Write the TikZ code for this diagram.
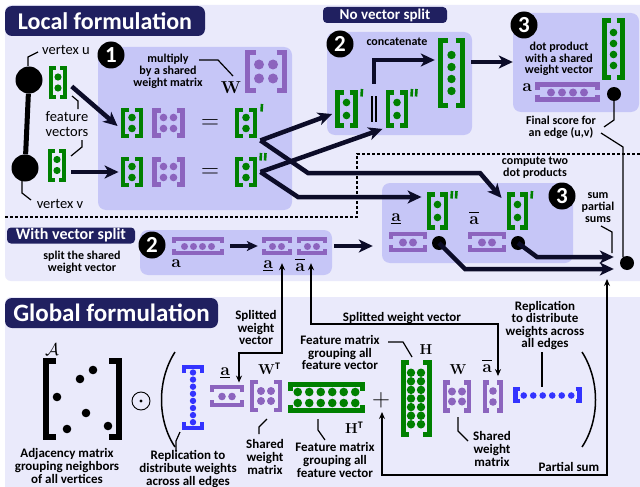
\documentclass[tikz,border=0pt]{standalone}
\usepackage[no-math]{fontspec}
\setmainfont{Carlito}
\usetikzlibrary{arrows.meta,calc}
\definecolor{bgc}{RGB}{234,234,251}
\definecolor{boxc}{RGB}{198,198,247}
\definecolor{navy}{RGB}{32,32,96}
\definecolor{gc}{RGB}{0,128,0}
\definecolor{pc}{RGB}{140,100,190}
\definecolor{bc}{RGB}{51,51,255}
\definecolor{ac}{RGB}{12,12,40}
\newcommand\ova{\overline{\mathbf{a}\vphantom{t}}}
\newcommand\una{\underline{\mathbf{a}}}
% vertical brackets: name,x,y,hw,hh,tick,color,lw
\newcommand\vbk[8]{%
  \node[inner sep=0pt,minimum width=2*#4pt+#8pt,minimum height=2*#5pt+#8pt] (#1) at (#2,#3) {};
  \draw[#7,line width=#8pt] (#2-#4+#6,#3-#5) -- (#2-#4,#3-#5) -- (#2-#4,#3+#5) -- (#2-#4+#6,#3+#5)
    (#2+#4-#6,#3-#5) -- (#2+#4,#3-#5) -- (#2+#4,#3+#5) -- (#2+#4-#6,#3+#5);}
% horizontal brackets
\newcommand\hbk[8]{%
  \node[inner sep=0pt,minimum width=2*#4pt+#8pt,minimum height=2*#5pt+#8pt] (#1) at (#2,#3) {};
  \draw[#7,line width=#8pt] (#2-#4,#3-#5+#6) -- (#2-#4,#3-#5) -- (#2+#4,#3-#5) -- (#2+#4,#3-#5+#6)
    (#2-#4,#3+#5-#6) -- (#2-#4,#3+#5) -- (#2+#4,#3+#5) -- (#2+#4,#3+#5-#6);}
\newcommand\prm[2]{\draw[gc,line width=2.6pt] (#1,#2) -- (#1-0.5,#2+7.5);}
\newcommand\dprm[2]{\draw[gc,line width=2.6pt] (#1,#2) -- (#1-0.5,#2+7.5) (#1+4.5,#2) -- (#1+4,#2+7.5);}
\begin{document}
\begin{tikzpicture}[x=1pt,y=-1pt,
  tb/.style={font=\fontsize{12}{11.8}\selectfont\bfseries,align=center,inner sep=0pt},
  tg/.style={font=\fontsize{13}{12.6}\selectfont\bfseries,align=center,inner sep=0pt},
  tr/.style={font=\fontsize{14.5}{15}\selectfont,align=center,inner sep=0pt},
  ml/.style={font=\fontsize{18}{18}\selectfont,inner sep=0pt},
  ttl/.style={fill=navy,text=white,rounded corners=7pt,inner sep=0pt,font=\bfseries},
  stepbox/.style={fill=boxc,rounded corners=8pt,inner sep=0pt},
  badge/.style={circle,fill=black,text=white,minimum size=27pt,inner sep=0pt,font=\fontsize{23}{23}\selectfont\bfseries},
  bdot/.style={circle,fill=black,minimum size=14pt,inner sep=0pt},
  vtx/.style={circle,fill=black,minimum size=27pt,inner sep=0pt},
  bigarrow/.style={draw=ac,line width=4.5pt,-{Stealth[length=14pt,width=13pt,inset=4pt]}},
  midarrow/.style={draw=ac,line width=3.5pt,-{Stealth[length=11pt,width=10pt,inset=3pt]}},
  thinarr/.style={draw=black,line width=1.3pt,{Stealth[length=7pt,width=6pt]}-{Stealth[length=7pt,width=6pt]}},
  leader/.style={draw=black,line width=1.2pt},
  sep/.style={draw=black,line width=1.3pt,dash pattern=on 3pt off 2pt},
]
\useasboundingbox (0,0) rectangle (640,487);
% panels
\fill[white] (0,0) rectangle (640,487);
\fill[bgc,rounded corners=6pt] (5,5) rectangle (660,281);
\fill[bgc,rounded corners=6pt] (5,297) rectangle (660,500);
% step boxes
\node[stepbox,minimum width=194pt,minimum height=163pt] (b1) at (195,128.5) {};
\node[stepbox,minimum width=145pt,minimum height=103pt] (b2) at (399.5,83.5) {};
\node[stepbox,minimum width=126pt,minimum height=99pt] (b3) at (576,62.5) {};
\node[stepbox,minimum width=192pt,minimum height=45pt] (sb2) at (236,252.5) {};
\node[stepbox,minimum width=191pt,minimum height=80pt] (sb3) at (477.5,223) {};
% titles
\node[ttl,minimum width=200pt,minimum height=30pt,font=\fontsize{24}{24}\selectfont\bfseries] (tLocal) at (105,21) {Local formulation};
\node[ttl,minimum width=124pt,minimum height=16pt,rounded corners=4pt,font=\fontsize{15}{15}\selectfont\bfseries] (tNo) at (385,15) {No vector split};
\node[ttl,minimum width=128pt,minimum height=16pt,rounded corners=4pt,font=\fontsize{16}{16}\selectfont\bfseries] (tWith) at (71,235.5) {With vector split};
\node[ttl,minimum width=213pt,minimum height=30pt,font=\fontsize{25}{25}\selectfont\bfseries] (tGlobal) at (111.5,313) {Global formulation};
% separator
\draw[sep] (5,217) -- (357,217) -- (357,154) -- (640,154);
% vertices
\node[vtx] (vU) at (29,80) {};
\node[vtx] (vV) at (25,168) {};
\draw[line width=5pt] (vU) -- (vV);
% badges
\node[badge] (n1) at (111,55) {1};
\node[badge] (n2a) at (340,44) {2};
\node[badge] (n3a) at (524,25) {3};
\node[badge] (n2b) at (152,245) {2};
\node[badge] (n3b) at (562,196) {3};
% ---------- icons, local ----------
\vbk{gu}{58}{82.5}{7}{14.5}{5}{gc}{4}
\fill[gc] (58,77) circle[radius=3.6pt] (58,88) circle[radius=3.6pt];
\vbk{gv}{57}{165}{7}{14.5}{5}{gc}{4}
\fill[gc] (57,159.5) circle[radius=3.6pt] (57,170.5) circle[radius=3.6pt];
\vbk{Wb}{266}{71.5}{18.5}{19}{8}{pc}{5}
\fill[pc] (259,64.5) circle[radius=5pt] (273,64.5) circle[radius=5pt] (259,78.5) circle[radius=5pt] (273,78.5) circle[radius=5pt];
\foreach \yy/\nm in {123/1,172/2}{
  \vbk{r\nm a}{132}{\yy}{9}{13}{6}{gc}{4.5}
  \fill[gc] (132,\yy-5.5) circle[radius=3.8pt] (132,\yy+5.5) circle[radius=3.8pt];
  \vbk{r\nm W}{168.5}{\yy}{14}{12.5}{6}{pc}{4.5}
  \fill[pc] (163.5,\yy-5.5) circle[radius=3.8pt] (173.5,\yy-5.5) circle[radius=3.8pt] (163.5,\yy+5.5) circle[radius=3.8pt] (173.5,\yy+5.5) circle[radius=3.8pt];
  \node[inner sep=0pt,font=\fontsize{26}{26}\selectfont] (eq\nm) at (210,\yy+1.5) {$=$};
  \vbk{r\nm p}{246}{\yy}{9}{13}{6}{gc}{4.5}
  \fill[gc] (246,\yy-5.5) circle[radius=3.8pt] (246,\yy+5.5) circle[radius=3.8pt];
}
\prm{262}{104}
\dprm{261}{153}
\node[ml,font=\fontsize{16}{16}\selectfont] (Wlab) at (231,88) {$\mathbf{W}$};
% step 2 no split
\vbk{s2p}{346.5}{109}{9}{16.5}{6}{gc}{4.5}
\fill[gc] (346.5,102.5) circle[radius=3.8pt] (346.5,115.5) circle[radius=3.8pt];
\prm{362}{89}
\node[inner sep=0pt,minimum width=6pt,minimum height=28pt] (bars) at (374,109) {};
\draw[line width=1.2pt] (372,96) -- (372,122) (376,96) -- (376,122);
\vbk{s2pp}{397}{109}{9}{16.5}{6}{gc}{4.5}
\fill[gc] (397,102.5) circle[radius=3.8pt] (397,115.5) circle[radius=3.8pt];
\dprm{412}{89}
\vbk{s2cat}{451.5}{73}{11}{32}{7}{gc}{5}
\foreach \k in {0,...,3}{\fill[gc] (451.5,55+\k*12) circle[radius=4.2pt];}
% step 3 no split
\vbk{t3v}{613.5}{49}{9}{28.5}{6}{gc}{4.5}
\foreach \k in {0,...,3}{\fill[gc] (613.5,32.5+\k*11) circle[radius=3.8pt];}
\hbk{t3a}{567.5}{92}{30}{7.5}{5}{pc}{4.5}
\foreach \k in {0,...,3}{\fill[pc] (551+\k*11,92.5) circle[radius=4pt];}
\node[bdot] (t3d) at (614,94) {};
\node[ml] (alab1) at (527,88) {$\mathbf{a}$};
% split step 2
\hbk{sa4}{198}{246}{24}{7}{4}{pc}{4}
\foreach \k in {0,...,3}{\fill[pc] (184.5+\k*9,246.5) circle[radius=3.5pt];}
\hbk{sa2u}{277}{246}{13}{7}{4}{pc}{4}
\fill[pc] (272.5,246.5) circle[radius=3.5pt] (281.5,246.5) circle[radius=3.5pt];
\hbk{sa2o}{312}{246}{13}{7}{4}{pc}{4}
\fill[pc] (307.5,246.5) circle[radius=3.5pt] (316.5,246.5) circle[radius=3.5pt];
\node[ml] (alab2) at (176,264) {$\mathbf{a}$};
\node[ml] (alab3) at (268,266) {$\una$};
\node[ml] (alab4) at (300,265) {$\ova$};
% split step 3
\vbk{vpp}{437.5}{211}{8.5}{16.5}{6}{gc}{4.5}
\fill[gc] (437.5,204.5) circle[radius=3.8pt] (437.5,217.5) circle[radius=3.8pt];
\dprm{452}{191}
\vbk{vp}{517.5}{211}{8.5}{16.5}{6}{gc}{4.5}
\fill[gc] (517.5,204.5) circle[radius=3.8pt] (517.5,217.5) circle[radius=3.8pt];
\prm{532}{191}
\hbk{pau}{408}{242}{17}{8}{5}{pc}{4.5}
\fill[pc] (403,242.5) circle[radius=4pt] (413,242.5) circle[radius=4pt];
\hbk{pao}{487}{242}{17}{8}{5}{pc}{4.5}
\fill[pc] (482,242.5) circle[radius=4pt] (492,242.5) circle[radius=4pt];
\node[ml] (alab5) at (396,219) {$\una$};
\node[ml] (alab6) at (474,218) {$\ova$};
\node[bdot] (pd1) at (439,243) {};
\node[bdot] (pd2) at (518,243) {};
\node[bdot] (sumd) at (627,263) {};
% ---------- connectors, local ----------
\draw[bigarrow,shorten <=6pt] (gu.east) -- ($(r1a.west)+(-3,3)$);
\draw[bigarrow,shorten <=5pt,shorten >=2pt] (gv.east |- r2a.west) -- (r2a.west);
\coordinate (c1) at ($(r1p.south east)+(3,2)$);
\coordinate (c2) at ($(r2p.east)+(3,0)$);
\draw[bigarrow] (c1) -- (308,173) -- (480,173) -- ($(vp.west)+(-5,-13)$);
\draw[bigarrow] (c2) -- (298,197) -- ($(vpp.west)+(-5,-14)$);
\draw[bigarrow] (c1) -- ($(s2p.west)+(-3,5)$);
\draw[bigarrow] (c2) -- ($(s2pp.south west)+(-3,1)$);
\draw[bigarrow,shorten <=11pt] (bars.north) |- ($(s2cat.west)+(-3,-13)$);
\draw[bigarrow] ($(s2cat.east)+(6,-11)$) -- ($(b3.west)+(0,-0.5)$);
\draw[midarrow,shorten <=6pt,shorten >=4pt] (sa4.east) -- (sa2u.west);
\draw[bigarrow] ($(sa2o.east)+(7,0)$) -- ($(sb3.west |- sa2o.east)+(-9,0)$);
\draw[bigarrow] (pd1.center) -- (465,269) -- ($(sumd.west)+(-6,6)$);
\draw[bigarrow] (pd2.center) -- (537,257) -- ($(sumd.west)+(-6,-6)$);
% ---------- texts, local ----------
\node[tr] (tvu) at (66,50) {vertex u};
\node[tr] (tvv) at (60,204) {vertex v};
\node[tr] (tfv) at (67,124) {feature\\vectors};
\node[tb] (tmul) at (168,71) {multiply\\by a shared\\weight matrix};
\node[tb] (tcat) at (397,42) {concatenate};
\node[tb] (tdp) at (559,59) {dot product\\with a shared\\weight vector};
\node[tb] (tfs) at (561,127.5) {Final score for\\an edge (u,v)};
\node[tb] (tctd) at (535,168) {compute two\\dot products};
\node[tb] (tsps) at (598,207.5) {sum\\partial\\sums};
\node[tb] (tstw) at (82,262) {split the shared\\weight vector};
% leaders local
\draw[leader] (38,52) -- (28,57) -- (28,66);
\draw[leader] (31,200) -- (22,193) -- (22,181);
\draw[leader] (72,96) -- (78,101) -- (78,109);
\draw[leader] (82,140) -- (82,147) -- (71,156);
\draw[leader] (199,60) -- (218,60) -- (233,76);
\draw[leader] (t3d.south) -- (614,120) -- (604,127);
\draw[leader] (601,133) -- (623,147) -- (623,257);
\draw[leader] (601,226) -- (612,232) -- (612,253);
% ---------- global ----------
\vbk{adj}{82.5}{399}{36.5}{38}{10}{black}{5.5}
\fill (93,370) circle[radius=4.3pt] (80,379) circle[radius=4.3pt] (57,397) circle[radius=4.3pt]
      (86,413) circle[radius=4.3pt] (67,429) circle[radius=4.3pt] (108,426) circle[radius=4.3pt];
\node[ml,font=\fontsize{17}{17}\selectfont] (Acal) at (52,350) {$\mathcal{A}$};
\node[circle,draw,line width=0.9pt,minimum size=18pt,inner sep=0pt] (odot) at (141,401) {};
\fill (odot.center) circle[radius=1.7pt];
\draw[line width=1.5pt] (175,352) .. controls (157,380) and (157,420) .. (175,447);
\draw[line width=1.5pt] (582,352) .. controls (600,380) and (600,420) .. (582,447);
\hbk{rep}{193}{397.5}{9}{30.5}{6}{bc}{4.5}
\foreach \k in {0,...,7}{\fill[bc] (193,372.5+\k*7.1) circle[radius=3.2pt];}
\hbk{ga}{227}{396}{15}{9}{5}{pc}{4.5}
\fill[pc] (222,396.5) circle[radius=3.8pt] (232,396.5) circle[radius=3.8pt];
\node[ml] (galab) at (225,373) {$\una$};
\vbk{gW}{266}{396}{14}{14}{6}{pc}{4.5}
\fill[pc] (261,391) circle[radius=4pt] (271,391) circle[radius=4pt] (261,401) circle[radius=4pt] (271,401) circle[radius=4pt];
\node[ml,font=\fontsize{15}{15}\selectfont] (gWlab) at (269,369) {$\mathbf{W}$\raisebox{5pt}{\fontsize{10}{10}\selectfont\bfseries T}};
\hbk{gHT}{326.5}{397.5}{36}{13}{6}{gc}{5}
\foreach \k in {0,...,5}{\fill[gc] (297.75+\k*11.5,392) circle[radius=4.3pt] (297.75+\k*11.5,403) circle[radius=4.3pt];}
\node[ml,font=\fontsize{15}{15}\selectfont] (HTlab) at (354,428) {$\mathbf{H}$\raisebox{5pt}{\fontsize{10}{10}\selectfont\bfseries T}};
\node[inner sep=0pt,font=\fontsize{24}{24}\selectfont] (plus) at (381,400) {$+$};
\vbk{gH}{416}{398.5}{13}{36}{6}{gc}{5}
\foreach \k in {0,...,6}{\fill[gc] (411,372.7+\k*8.6) circle[radius=4.2pt] (421,372.7+\k*8.6) circle[radius=4.2pt];}
\node[ml,font=\fontsize{15}{15}\selectfont] (Hlab) at (426,350) {$\mathbf{H}$};
\vbk{gW2}{457}{396.5}{12}{14}{5}{pc}{4.5}
\fill[pc] (452,391.5) circle[radius=4pt] (462,391.5) circle[radius=4pt] (452,401.5) circle[radius=4pt] (462,401.5) circle[radius=4pt];
\node[ml,font=\fontsize{15}{15}\selectfont] (gW2lab) at (458,370) {$\mathbf{W}$};
\vbk{gao}{493}{396.5}{8}{14}{4}{pc}{4.5}
\fill[pc] (493,391) circle[radius=3.8pt] (493,402) circle[radius=3.8pt];
\node[ml] (gaolab) at (487,366) {$\ova$};
\vbk{gbl}{547.5}{395}{32}{6}{4}{bc}{4.5}
\foreach \k in {0,...,5}{\fill[bc] (523.75+\k*9.5,395.5) circle[radius=3.3pt];}
% global texts
\node[tg] (tadj) at (67,466) {Adjacency matrix\\grouping neighbors\\of all vertices};
\node[tg] (trep1) at (188,469) {Replication to\\distribute weights\\across all edges};
\node[tg] (tsw1) at (265,457) {Shared\\weight\\matrix};
\node[tg] (tswv1) at (256,327.5) {Splitted\\weight\\vector};
\node[tg] (tswv2) at (402,318) {Splitted weight vector};
\node[tg] (tfm1) at (340,352.5) {Feature matrix\\grouping all\\feature vector};
\node[tg] (tfm2) at (335,460) {Feature matrix\\grouping all\\feature vector};
\node[tg] (tsw2) at (492,449) {Shared\\weight\\matrix};
\node[tg] (trep2) at (545,325.5) {Replication\\to distribute\\weights across\\all edges};
\node[tg] (tps) at (569,467) {Partial sum};
% global leaders
\draw[leader] (180,432) -- (176,441) -- (176,451);
\draw[leader] (267,419) -- (259,427) -- (259,434);
\draw[leader] (318,419) -- (318,430) -- (325,440);
\draw[leader] (388,342) -- (403,342) -- (412,357);
\draw[leader] (458,417) -- (458,431) -- (468,441);
\draw[leader] (542,352) -- (542,387);
% global connectors
\draw[thinarr] ($(ga.north)+(12,-2)$) -- (239,353) -- (282,353) -- ($(sa2u.south)+(5,8)$);
\draw[thinarr] ($(sa2o.south)+(-1,8)$) -- (311,324) -- (498,324) -- ($(gao.north)+(5,-4)$);
\draw[thinarr] ($(plus.south)+(1,4)$) -- (382,475) -- (607,475) -- (607,279);
\end{tikzpicture}
\end{document}
